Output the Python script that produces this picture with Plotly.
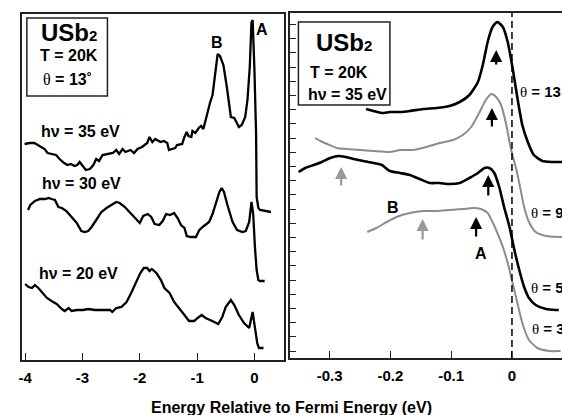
import plotly.graph_objects as go

W, H = 562, 415
FONT = "Liberation Sans"

# ---------------- Left panel: EDCs at theta = 13 deg, various photon energies ----------------
E35 = [-4.01, -3.92, -3.84, -3.81, -3.75, -3.66, -3.61, -3.52, -3.46, -3.40, -3.32, -3.26, -3.20, -3.14,
       -3.09, -3.05, -3.00, -2.94, -2.87, -2.81, -2.76, -2.71, -2.65, -2.58, -2.52, -2.47, -2.41, -2.36,
       -2.30, -2.25, -2.16, -2.10, -2.04, -1.96, -1.87, -1.83, -1.78, -1.73, -1.64, -1.58, -1.52, -1.49,
       -1.44, -1.38, -1.35, -1.26, -1.22, -1.18, -1.15, -1.10, -1.08, -1.03, -0.97, -0.93, -0.89, -0.86,
       -0.81, -0.77, -0.73, -0.68, -0.64, -0.60, -0.54, -0.48, -0.41, -0.35, -0.31, -0.27, -0.22, -0.16,
       -0.12, -0.08, -0.05, -0.03, 0.00, 0.03, 0.04, 0.07, 0.10, 0.29]
I35 = [216, 217, 217, 216, 214, 211, 207, 206, 205, 201, 197, 195, 196, 194,
       195, 198, 194, 190, 191, 195, 201, 199, 205, 206, 207, 207, 210, 206,
       211, 208, 210, 207, 211, 213, 217, 223, 218, 221, 218, 219, 217, 210,
       211, 212, 215, 216, 223, 228, 224, 223, 229, 227, 232, 234, 231, 238,
       250, 258, 265, 287, 306, 304, 295, 273, 243, 242, 238, 233, 235, 243,
       260, 293, 338, 340, 293, 227, 163, 152, 150, 148]

E30 = [-3.95, -3.91, -3.83, -3.74, -3.65, -3.59, -3.54, -3.48, -3.42, -3.36, -3.28, -3.22, -3.16, -3.10,
       -3.02, -2.96, -2.90, -2.84, -2.76, -2.67, -2.58, -2.49, -2.41, -2.35, -2.26, -2.18, -2.09, -2.00,
       -1.94, -1.86, -1.80, -1.74, -1.66, -1.60, -1.54, -1.47, -1.40, -1.34, -1.28, -1.22, -1.18, -1.11,
       -1.02, -0.96, -0.88, -0.79, -0.73, -0.67, -0.61, -0.57, -0.53, -0.47, -0.38, -0.30, -0.21, -0.15,
       -0.09, -0.05, -0.02, 0.01, 0.04, 0.07, 0.10, 0.18]
I30 = [150, 155, 159, 161, 161, 162, 161, 160, 153, 152, 149, 145, 140, 137,
       129, 128, 129, 133, 140, 148, 152, 155, 158, 157, 153, 148, 142, 137,
       144, 146, 143, 136, 135, 139, 146, 145, 147, 142, 135, 132, 124, 123,
       123, 130, 134, 138, 146, 157, 168, 172, 168, 155, 138, 130, 128, 129,
       138, 158, 146, 113, 90, 80, 79, 79]

E20 = [-4.00, -3.94, -3.88, -3.83, -3.77, -3.71, -3.62, -3.54, -3.45, -3.36, -3.31, -3.24, -3.19, -3.10,
       -2.99, -2.90, -2.78, -2.61, -2.52, -2.48, -2.41, -2.32, -2.23, -2.15, -2.06, -1.99, -1.93, -1.87,
       -1.83, -1.79, -1.71, -1.63, -1.57, -1.48, -1.40, -1.31, -1.22, -1.14, -1.05, -0.99, -0.92, -0.85,
       -0.76, -0.70, -0.63, -0.56, -0.50, -0.41, -0.35, -0.27, -0.18, -0.09, -0.03, 0.01, 0.05, 0.08, 0.16]
I20 = [76, 73, 72, 75, 72, 68, 62, 59, 56, 51, 49, 52, 49, 50,
       50, 51, 50, 50, 50, 48, 52, 53, 58, 67, 78, 87, 92, 92,
       89, 91, 87, 80, 72, 67, 58, 52, 45, 39, 39, 42, 45, 42,
       40, 38, 36, 43, 53, 60, 55, 45, 37, 32, 48, 33, 17, 12, 12]

# ---------------- Right panel: hv = 35 eV, various angles ----------------
E_t13 = [-0.240, -0.228, -0.214, -0.201, -0.184, -0.168, -0.146, -0.124, -0.103, -0.086, -0.070, -0.056,
         -0.048, -0.040, -0.032, -0.024, -0.015, -0.007, 0.001, 0.009, 0.017, 0.026, 0.036, 0.050, 0.066, 0.083]
I_t13 = [249, 247, 245, 246, 246, 247, 249, 250, 252, 256, 263, 276,
         293, 316, 331, 336, 331, 316, 290, 260, 233, 216, 203, 197, 196, 196]

E_t9 = [-0.324, -0.315, -0.304, -0.288, -0.272, -0.250, -0.228, -0.201, -0.184, -0.163, -0.141, -0.119,
        -0.097, -0.081, -0.067, -0.054, -0.043, -0.034, -0.026, -0.018, -0.010, -0.002, 0.007, 0.012,
        0.020, 0.028, 0.039, 0.056, 0.077, 0.083]
I_t9 = [220, 217, 214, 210, 209, 208, 207, 206, 208, 208, 211, 215,
        218, 223, 231, 245, 258, 264, 261, 253, 235, 210, 189, 175,
        151, 136, 126, 122, 121, 121]

E_t5 = [-0.351, -0.340, -0.326, -0.313, -0.299, -0.285, -0.274, -0.261, -0.245, -0.228, -0.214, -0.201,
        -0.184, -0.168, -0.152, -0.135, -0.119, -0.103, -0.086, -0.070, -0.056, -0.045, -0.037, -0.029,
        -0.021, -0.013, -0.004, 0.004, 0.012, 0.020, 0.028, 0.039, 0.056, 0.072, 0.077]
I_t5 = [186, 190, 193, 196, 200, 202, 201, 199, 197, 195, 193, 187,
        185, 183, 179, 175, 175, 174, 175, 180, 185, 190, 190, 185,
        171, 151, 131, 108, 88, 71, 60, 53, 49, 48, 48]

E_t3 = [-0.238, -0.223, -0.206, -0.190, -0.168, -0.146, -0.124, -0.103, -0.081, -0.064, -0.051, -0.040,
        -0.032, -0.024, -0.015, -0.007, 0.001, 0.009, 0.017, 0.028, 0.042, 0.061, 0.080]
I_t3 = [126, 130, 136, 141, 145, 147, 147, 148, 149, 150, 149, 145,
        136, 125, 111, 95, 75, 55, 35, 18, 10, 7, 7]

# peak markers (arrows): energy, head intensity, tail intensity
arrows_A = [(-0.026, 308, 292), (-0.033, 250, 230), (-0.039, 183, 161), (-0.059, 141, 120)]
arrows_B = [(-0.281, 191, 171), (-0.147, 139, 117)]

left_ticks = [-4, -3, -2, -1, 0]
right_ticks = [-0.3, -0.2, -0.1, 0]

def px(x):
    return x / W

def py(y):
    return 1 - y / H

fig = go.Figure()
for E, I in [(E35, I35), (E30, I30), (E20, I20)]:
    fig.add_trace(go.Scatter(x=E, y=I, mode="lines", line=dict(color="black", width=2.3),
                             xaxis="x", yaxis="y", showlegend=False, hoverinfo="skip"))
for E, I, col, wd in [(E_t13, I_t13, "black", 2.6), (E_t9, I_t9, "#8c8c8c", 2.0),
                      (E_t5, I_t5, "black", 2.6), (E_t3, I_t3, "#8c8c8c", 2.0)]:
    fig.add_trace(go.Scatter(x=E, y=I, mode="lines", line=dict(color=col, width=wd, shape="spline", smoothing=0.6),
                             xaxis="x2", yaxis="y2", showlegend=False, hoverinfo="skip"))

tickfont = dict(family=FONT, size=15, color="black", weight="bold")
axline = dict(showline=True, linecolor="#222", linewidth=1.5, showgrid=False, zeroline=False)

fig.update_layout(
    width=W, height=H, margin=dict(l=0, r=0, t=0, b=0),
    paper_bgcolor="white", plot_bgcolor="white",
    xaxis=dict(domain=[px(19), px(283)], range=[-4.057, 0.526], tickvals=left_ticks,
               ticktext=["-4", "-3", "-2", "-1", "0"], ticks="inside", ticklen=7, tickwidth=1.3,
               tickcolor="#222", mirror=True, tickfont=tickfont, ticklabelstandoff=3, **axline),
    yaxis=dict(domain=[py(360), py(14)], range=[0, 346], showticklabels=False, ticks="",
               mirror=True, **axline),
    xaxis2=dict(domain=[px(289), 1.0], range=[-0.3644, 0.0823], tickvals=right_ticks,
                ticktext=["-0.3", "-0.2", "-0.1", "0"], ticks="inside", ticklen=7, tickwidth=1.3,
                tickcolor="#222", mirror=True, tickfont=tickfont, ticklabelstandoff=3,
                anchor="y2", **axline),
    yaxis2=dict(domain=[py(358), py(13)], range=[0, 345], showticklabels=False, ticks="inside",
                tick0=7, dtick=14.2, ticklen=6, tickwidth=1.3, tickcolor="#222", mirror=False,
                anchor="x2", **axline),
)

# dashed Fermi level line
fig.add_shape(type="line", xref="x2", yref="paper", x0=0, x1=0, y0=py(358), y1=py(13),
              line=dict(color="black", width=1.5, dash="7px,4px"))

# text boxes
fig.add_shape(type="rect", xref="paper", yref="paper", x0=px(24), x1=px(105), y0=py(96), y1=py(18),
              line=dict(color="#222", width=1.5), fillcolor="white")
fig.add_shape(type="rect", xref="paper", yref="paper", x0=px(297), x1=px(389), y0=py(105), y1=py(22),
              line=dict(color="#222", width=1.5), fillcolor="white")

def txt(s, x, y, size=16, anchor="center", bold=True):
    fig.add_annotation(text=s, x=px(x), y=py(y), xref="paper", yref="paper", showarrow=False,
                       xanchor=anchor, yanchor="middle",
                       font=dict(family=FONT, size=size, color="black", weight="bold" if bold else "normal"))

TH = "<span style='font-family:Liberation Serif;font-weight:normal'>θ</span>"
SUB2 = "<span style='font-size:15px'>2</span>"

# left box
txt("USb" + SUB2, 66, 32, size=24)
txt("T = 20K", 66, 56)
txt(TH + " = 13˚", 65, 80)
# right box
txt("USb" + SUB2, 343, 42, size=24)
txt("T = 20K", 338, 72)
txt("hν = 35 eV", 346, 94)

# left curve labels
txt("hν = 35 eV", 36, 131, anchor="left")
txt("hν = 30 eV", 37, 183, anchor="left")
txt("hν = 20 eV", 34, 273, anchor="left")
txt("B", 215, 43)
txt("A", 260, 29)

# right labels
txt("B", 392, 207)
txt("A", 481, 253)
txt(TH + " = 13", 518, 92, anchor="left", size=15)
txt(TH + " = 9", 529, 213, anchor="left", size=15)
txt(TH + " = 5", 529, 287, anchor="left", size=15)
txt(TH + " = 3", 530, 328, anchor="left", size=15)

# axis title
txt("Energy Relative to Fermi Energy (eV)", 290, 407, size=16)

for e, head, tail in arrows_A:
    fig.add_annotation(x=e, y=head, ax=e, ay=tail, xref="x2", yref="y2", axref="x2", ayref="y2",
                       text="", showarrow=True, arrowhead=2, arrowsize=1.1, arrowwidth=2.2,
                       arrowcolor="black")
for e, head, tail in arrows_B:
    fig.add_annotation(x=e, y=head, ax=e, ay=tail, xref="x2", yref="y2", axref="x2", ayref="y2",
                       text="", showarrow=True, arrowhead=2, arrowsize=1.1, arrowwidth=2.2,
                       arrowcolor="#9a9a9a")

fig.write_html("out.html")
